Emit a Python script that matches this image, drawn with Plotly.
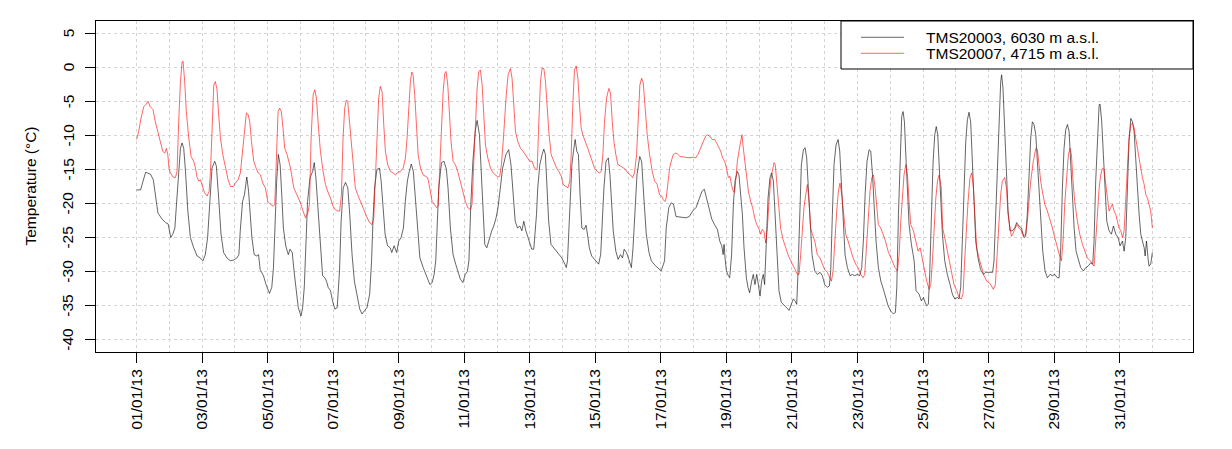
import pandas as pd
import plotly.graph_objects as go

# ---------------- data ----------------
start_date = "2013-01-01 00:00"
series_names = ["TMS20003, 6030 m a.s.l.", "TMS20007, 4715 m a.s.l."]
series_colors = ["rgba(0,0,0,0.6)", "rgba(255,0,0,0.6)"]

hours_tms20003 = [
    0, 2.9, 6.6, 10.2, 12.2, 13.9, 15.6, 18.7, 21.2, 23.1, 24.3, 25.0, 26.5, 28.0, 29.2, 30.9, 32.1, 33.3, 34.5, 35.8,
    37.5, 39.4, 41.8, 44.3, 46.7, 48.6, 50.3, 52.0, 53.5, 55.2, 57.2, 58.4, 60.1, 61.8, 63.7, 66.2, 68.6, 71.0, 73.4, 74.9,
    75.9, 77.6, 79.0, 80.7, 82.0, 83.2, 84.4, 86.1, 88.0, 89.3, 90.5, 92.9, 94.8, 97.3, 99.0, 100.2, 101.4, 102.6, 103.8, 105.1,
    106.3, 107.5, 109.2, 111.1, 112.4, 114.0, 115.3, 116.7, 118.4, 120.4, 121.6, 122.8, 124.0, 125.2, 127.0, 128.9, 130.1, 131.3, 132.5, 134.2,
    136.2, 137.9, 139.1, 140.3, 142.0, 143.5, 145.2, 146.9, 148.6, 149.8, 151.3, 153.0, 154.7, 156.1, 157.8, 159.5, 161.5, 163.4, 165.1, 166.8,
    168.7, 170.7, 172.1, 173.1, 174.3, 176.0, 177.9, 179.1, 180.4, 182.0, 183.8, 185.7, 186.9, 188.6, 190.5, 192.0, 193.7, 195.4, 196.8, 198.3,
    199.7, 201.2, 202.7, 204.1, 205.6, 207.5, 209.9, 212.8, 214.8, 216.5, 217.9, 219.1, 220.1, 221.3, 223.3, 225.2, 226.9, 228.1, 229.8, 231.8,
    233.7, 235.4, 237.1, 239.0, 240.7, 242.2, 243.4, 244.8, 246.3, 248.0, 249.4, 251.1, 252.4, 253.6, 255.0, 256.5, 258.4, 260.1, 261.6, 263.3,
    264.7, 266.2, 268.1, 270.5, 272.5, 274.2, 275.9, 277.3, 279.0, 280.7, 282.2, 283.6, 285.1, 286.5, 288.2, 289.4, 290.9, 292.9, 293.8, 295.3,
    297.0, 298.2, 299.4, 300.6, 301.8, 303.5, 305.5, 307.4, 309.6, 311.5, 313.2, 314.7, 315.6, 316.6, 317.6, 318.8, 320.0, 321.2, 322.4, 323.6,
    324.8, 326.1, 327.8, 329.2, 330.2, 331.6, 333.3, 335.3, 337.0, 338.4, 339.9, 341.1, 342.3, 343.8, 345.5, 346.7, 347.9, 349.1, 351.0, 352.7,
    354.4, 355.9, 357.1, 358.8, 360.5, 362.4, 363.6, 364.8, 366.5, 368.5, 369.9, 371.4, 373.3, 375.3, 377.0, 379.4, 381.8, 384.2, 385.4, 386.7,
    387.9, 389.8, 391.5, 393.2, 395.1, 398.8, 402.4, 404.8, 407.3, 409.7, 412.1, 414.1, 415.8, 417.4, 419.4, 421.3, 423.3, 425.4, 427.1, 428.6,
    429.6, 430.3, 431.0, 432.0, 433.4, 434.4, 435.8, 437.1, 438.3, 440.0, 441.2, 442.4, 443.7, 444.9, 446.6, 447.8, 449.0, 450.5, 451.7, 452.9,
    454.2, 455.4, 456.6, 457.8, 459.0, 460.0, 461.0, 462.5, 463.9, 465.1, 466.4, 467.6, 468.8, 470.5, 472.2, 474.2, 476.1, 477.9, 479.6, 481.0,
    482.3, 483.5, 484.4, 485.7, 486.9, 488.4, 489.6, 490.8, 492.0, 493.2, 494.7, 496.7, 498.6, 500.6, 502.3, 504.0, 506.0, 507.4, 508.4, 509.6,
    510.8, 512.3, 513.8, 515.0, 516.2, 517.4, 518.9, 520.6, 522.6, 524.3, 526.0, 527.9, 529.6, 531.1, 532.3, 533.6, 535.0, 536.5, 537.7, 539.0,
    540.2, 541.6, 543.3, 545.1, 547.0, 548.7, 550.4, 552.4, 554.3, 555.8, 556.8, 558.0, 559.2, 560.4, 561.4, 562.4, 563.4, 564.6, 565.8, 567.5,
    569.5, 570.9, 573.1, 574.8, 576.3, 577.5, 578.7, 579.9, 580.9, 582.2, 583.4, 584.6, 585.7, 586.8, 587.9, 589.0, 590.2, 591.9, 593.8, 595.8,
    597.5, 599.2, 601.1, 602.4, 603.6, 604.8, 606.0, 607.3, 608.5, 609.7, 610.9, 612.1, 613.4, 614.6, 616.3, 618.2, 620.2, 621.9, 623.6, 625.6,
    627.0, 628.0, 629.2, 630.5, 631.7, 632.9, 633.6, 634.6, 635.8, 637.1, 638.3, 639.7, 641.5, 643.2, 644.6, 646.3, 648.1, 650.0, 651.2, 652.4,
    653.7, 654.9, 656.1, 657.3, 658.6, 659.8, 661.0, 662.2, 663.7, 665.4, 667.1, 669.1, 670.8, 672.5, 674.4, 675.7, 676.9, 678.1, 679.3, 680.5,
    681.8, 683.0, 684.2, 685.4, 686.7, 688.1, 689.8, 691.5, 693.5, 695.2, 696.9, 698.9, 700.3, 701.3, 702.5, 703.8, 705.0, 705.7, 706.9, 708.1,
    709.4, 710.6, 712.3, 714.0, 715.5, 717.2, 718.9, 720.4, 722.1, 723.3, 724.5, 725.7, 726.9, 728.2, 729.4, 730.6, 731.8, 733.1, 734.3, 735.5,
    736.7, 738.0, 738.7, 739.7, 740.9, 741.6, 742.8, 744.0,
]
temp_tms20003 = [
    -18.0, -18.0, -15.4, -15.7, -16.5, -19.2, -21.4, -22.3, -22.8, -23.0, -24.0, -25.0, -24.5, -23.6, -20.1, -14.3, -11.9, -11.1, -11.9, -15.3,
    -21.1, -25.0, -26.5, -27.7, -28.0, -28.4, -27.5, -25.0, -19.7, -14.8, -13.8, -14.5, -19.2, -24.5, -27.2, -28.0, -28.4, -28.3, -28.0, -27.5,
    -24.0, -19.7, -18.7, -16.1, -18.2, -21.6, -25.0, -27.5, -27.7, -27.5, -29.7, -30.6, -31.9, -33.2, -32.3, -29.5, -22.6, -16.7, -12.8, -14.3,
    -18.7, -23.6, -26.2, -27.5, -26.7, -27.2, -29.9, -32.8, -35.3, -36.5, -35.3, -32.3, -25.5, -19.7, -16.2, -15.3, -14.0, -16.2, -19.7, -25.5,
    -30.6, -30.9, -31.4, -32.3, -32.8, -34.3, -35.5, -35.3, -29.9, -22.6, -17.7, -16.9, -17.7, -21.6, -27.5, -31.4, -33.8, -35.5, -36.2, -35.8,
    -35.3, -33.3, -28.4, -22.6, -17.7, -15.0, -14.8, -16.7, -20.6, -24.5, -26.2, -26.5, -27.2, -26.2, -27.2, -25.5, -25.0, -23.6, -19.7, -16.7,
    -15.3, -14.2, -15.3, -18.7, -23.6, -28.0, -29.4, -30.9, -31.9, -31.6, -30.4, -28.4, -23.6, -17.7, -14.0, -13.8, -15.0, -17.7, -23.6, -27.5,
    -28.9, -29.9, -31.1, -31.6, -30.4, -30.0, -28.4, -20.1, -13.8, -9.4, -7.8, -9.9, -15.3, -21.6, -26.0, -26.5, -25.0, -24.0, -23.3, -22.1,
    -20.6, -17.7, -14.8, -12.8, -12.1, -14.3, -18.7, -22.6, -23.6, -23.3, -24.0, -22.6, -24.0, -25.0, -26.0, -26.7, -26.7, -21.6, -17.7, -14.3,
    -12.8, -12.0, -12.8, -17.7, -22.6, -26.0, -26.5, -27.0, -27.6, -28.0, -28.7, -29.4, -28.4, -23.6, -18.7, -14.3, -12.3, -10.6, -12.3, -12.8,
    -18.7, -23.6, -23.8, -23.2, -24.5, -26.5, -27.7, -28.2, -28.7, -28.9, -27.5, -22.6, -17.7, -13.8, -13.3, -15.8, -19.7, -24.0, -27.0, -28.2,
    -27.5, -28.0, -26.7, -27.2, -28.2, -29.4, -26.5, -21.1, -15.8, -13.1, -13.8, -18.7, -24.5, -27.2, -28.4, -29.0, -29.4, -29.9, -29.2, -28.4,
    -23.6, -20.6, -19.9, -20.1, -21.9, -22.0, -22.1, -21.9, -21.1, -20.6, -19.2, -18.2, -17.9, -19.2, -20.9, -22.3, -23.1, -23.8, -25.5, -26.2,
    -27.5, -26.0, -28.0, -29.9, -30.6, -30.9, -27.5, -20.1, -16.7, -15.3, -15.8, -18.7, -21.6, -26.5, -30.9, -32.3, -33.1, -31.4, -30.4, -31.9,
    -30.4, -31.9, -33.6, -31.4, -30.4, -31.9, -25.5, -19.2, -16.2, -15.5, -16.7, -21.1, -27.5, -32.8, -34.5, -35.0, -35.3, -35.7, -34.8, -34.0,
    -34.3, -34.8, -30.4, -21.6, -14.3, -12.1, -11.8, -13.3, -17.7, -23.1, -27.5, -29.9, -30.4, -30.1, -30.6, -31.9, -32.3, -32.1, -29.9, -21.6,
    -14.3, -11.4, -10.6, -12.3, -16.7, -22.6, -27.5, -29.4, -30.6, -30.4, -30.6, -30.4, -30.6, -29.4, -25.5, -18.7, -13.8, -12.1, -12.3, -15.8,
    -20.1, -25.5, -29.4, -31.4, -32.6, -33.8, -35.0, -35.8, -36.2, -36.0, -32.3, -21.6, -12.8, -7.2, -6.5, -8.0, -12.8, -18.7, -23.1, -26.0,
    -28.4, -32.8, -33.3, -34.3, -33.8, -34.5, -35.0, -34.8, -30.4, -21.6, -13.8, -9.9, -8.7, -9.9, -14.3, -19.7, -24.5, -28.4, -30.4, -31.9,
    -33.3, -34.0, -33.8, -34.0, -32.3, -25.5, -16.7, -10.9, -7.7, -6.6, -8.0, -12.8, -19.7, -25.5, -28.0, -29.7, -30.4, -30.1, -30.1, -30.1,
    -30.1, -28.4, -21.6, -12.8, -6.5, -2.1, -1.1, -3.1, -8.9, -15.8, -21.1, -24.0, -24.0, -23.6, -22.8, -23.3, -23.6, -25.0, -24.8, -21.6,
    -15.3, -10.4, -8.0, -8.4, -9.9, -14.3, -18.7, -23.1, -27.0, -29.9, -30.9, -30.4, -30.6, -30.4, -30.9, -30.9, -26.5, -17.7, -11.9, -9.2,
    -8.4, -9.4, -13.8, -19.2, -23.6, -27.0, -28.4, -29.4, -29.9, -29.4, -29.2, -28.7, -28.9, -25.5, -16.7, -9.4, -5.5, -5.4, -8.0, -12.8,
    -18.7, -22.6, -24.0, -24.5, -23.3, -24.5, -25.0, -26.2, -25.5, -27.0, -25.0, -17.7, -10.9, -7.5, -8.0, -9.4, -12.8, -17.7, -21.6, -24.5,
    -25.5, -26.5, -27.7, -25.5, -28.2, -29.2, -28.9, -27.2,
]

hours_tms20007 = [
    0, 1.5, 3.2, 5.2, 7.1, 8.3, 10.0, 12.0, 13.7, 15.4, 17.4, 19.1, 20.6, 21.8, 22.8, 23.7, 24.7, 26.7, 28.4, 29.6,
    30.8, 32.1, 33.3, 34.0, 35.2, 36.4, 38.2, 39.9, 41.8, 43.1, 44.3, 45.5, 46.7, 48.0, 49.7, 51.6, 53.1, 54.1, 55.3, 56.5,
    57.7, 58.9, 60.1, 61.4, 63.1, 65.0, 67.0, 68.7, 70.6, 72.3, 74.3, 76.0, 77.5, 78.9, 80.4, 81.6, 82.9, 84.1, 85.8, 87.5,
    89.0, 90.7, 92.4, 94.3, 96.1, 98.0, 100.0, 101.2, 102.4, 103.6, 104.8, 106.0, 107.2, 108.5, 110.2, 112.7, 115.1, 117.6, 120.0, 121.9,
    123.7, 125.4, 126.6, 127.8, 129.3, 130.5, 131.7, 132.9, 134.6, 136.6, 138.3, 140.3, 142.0, 143.9, 145.6, 147.4, 148.7, 150.0, 151.2, 152.4,
    153.6, 154.6, 155.8, 157.0, 158.5, 160.2, 161.9, 163.9, 165.8, 167.5, 169.3, 170.7, 172.4, 173.7, 174.9, 176.1, 177.3, 178.5, 179.8, 181.0,
    182.2, 183.9, 185.9, 187.8, 189.5, 191.5, 193.2, 195.2, 196.9, 198.1, 199.3, 200.5, 201.5, 202.5, 203.7, 204.9, 206.2, 207.9, 209.8, 211.5,
    213.2, 214.7, 216.4, 218.1, 219.6, 220.8, 222.0, 223.3, 224.5, 225.7, 226.7, 227.9, 229.1, 230.3, 231.8, 233.5, 235.2, 237.2, 238.9, 240.8,
    242.6, 244.5, 245.7, 247.0, 248.2, 249.4, 250.6, 251.8, 253.1, 254.3, 255.5, 257.2, 259.2, 261.1, 262.8, 264.5, 266.0, 267.2, 268.5, 269.7,
    270.9, 272.1, 273.8, 275.0, 276.3, 277.5, 279.2, 281.2, 282.9, 284.8, 286.5, 288.0, 289.7, 291.4, 292.6, 293.4, 294.6, 295.8, 297.0, 298.3,
    299.5, 300.7, 301.9, 303.6, 305.6, 307.6, 309.3, 311.0, 312.4, 314.2, 315.9, 317.3, 318.3, 319.5, 320.7, 322.0, 323.2, 324.4, 325.6, 327.1,
    328.8, 330.5, 332.0, 333.7, 335.4, 337.4, 339.1, 340.3, 341.5, 342.7, 344.2, 345.9, 347.1, 348.4, 349.6, 351.0, 352.5, 354.5, 356.4, 358.1,
    359.8, 361.8, 363.3, 364.7, 366.2, 367.4, 368.6, 369.9, 371.1, 372.3, 374.0, 375.7, 377.7, 379.4, 381.3, 383.0, 384.5, 385.7, 387.0, 387.9,
    389.2, 390.4, 391.6, 393.1, 394.8, 396.0, 398.0, 400.4, 402.8, 405.3, 407.7, 409.4, 411.1, 413.1, 415.0, 416.8, 418.0, 419.7, 421.6, 423.4,
    424.8, 426.5, 427.8, 429.2, 430.7, 432.1, 433.4, 434.6, 435.6, 437.0, 438.0, 438.8, 440.0, 441.2, 442.4, 443.4, 444.4, 445.4, 446.6, 448.1,
    449.8, 451.2, 452.7, 454.2, 455.6, 457.1, 458.3, 459.5, 460.8, 462.0, 463.2, 464.4, 465.6, 466.9, 467.8, 468.8, 470.0, 471.7, 473.5, 475.4,
    477.1, 479.1, 480.8, 482.3, 484.0, 485.2, 486.4, 487.6, 488.8, 490.1, 491.3, 492.5, 493.7, 495.0, 496.7, 498.6, 500.6, 502.3, 504.0, 505.9,
    507.7, 508.9, 510.1, 511.3, 512.8, 514.0, 515.2, 516.5, 517.7, 519.4, 521.1, 523.1, 524.8, 526.7, 528.4, 530.4, 532.1, 533.3, 534.5, 535.8,
    537.2, 538.5, 539.7, 540.9, 542.1, 543.3, 545.1, 546.7, 548.5, 550.4, 552.4, 554.1, 555.5, 557.3, 558.5, 559.7, 560.9, 562.1, 563.4, 564.6,
    565.8, 567.0, 569.0, 570.7, 572.4, 573.9, 575.6, 577.3, 578.7, 580.5, 581.7, 582.9, 584.1, 585.4, 586.6, 587.8, 589.4, 590.4, 591.9, 593.3,
    595.0, 596.7, 598.7, 600.7, 602.4, 604.1, 605.3, 606.5, 607.7, 609.0, 610.4, 611.7, 612.9, 614.1, 615.3, 617.0, 618.7, 620.7, 622.6, 624.4,
    626.1, 627.5, 629.0, 630.5, 631.7, 632.9, 634.1, 635.8, 637.1, 638.3, 639.5, 640.7, 642.2, 643.4, 644.6, 646.3, 648.1, 649.5, 651.2, 652.4,
    653.7, 654.9, 656.8, 658.6, 659.8, 661.0, 662.2, 663.4, 665.2, 667.1, 668.8, 670.8, 672.5, 674.4, 676.1, 677.4, 678.6, 679.8, 681.3, 682.5,
    683.7, 684.7, 685.9, 687.1, 689.1, 690.8, 692.8, 694.5, 696.4, 698.4, 700.1, 701.3, 702.5, 703.8, 705.0, 706.2, 707.4, 708.6, 709.9, 711.1,
    712.3, 713.5, 714.7, 716.0, 717.2, 718.4, 719.6, 720.9, 722.1, 723.3, 724.5, 725.7, 726.9, 728.2, 729.4, 730.6, 731.8, 733.1, 734.3, 735.5,
    736.7, 738.0, 739.2, 740.4, 741.6, 742.8, 744.0,
]
temp_tms20007 = [
    -10.6, -9.4, -7.5, -5.8, -5.4, -5.0, -5.8, -6.2, -8.0, -9.4, -10.6, -12.3, -12.6, -11.9, -12.8, -14.8, -15.5, -16.1, -16.2, -15.3,
    -8.0, -2.1, 0.8, 0.9, -2.1, -6.5, -10.4, -13.1, -13.8, -14.8, -16.2, -16.7, -16.5, -17.2, -18.4, -18.9, -18.2, -15.3, -8.0, -2.6,
    -2.1, -3.3, -7.0, -10.4, -12.8, -14.8, -16.5, -17.5, -17.5, -17.0, -16.5, -15.5, -12.8, -9.4, -6.7, -6.9, -8.0, -10.9, -13.8, -14.8,
    -15.5, -15.8, -17.0, -17.7, -19.7, -20.1, -20.4, -20.1, -12.8, -6.5, -6.0, -6.5, -8.9, -11.9, -12.8, -14.8, -17.7, -18.9, -19.9, -21.1,
    -22.1, -21.4, -20.1, -10.4, -4.0, -3.3, -4.5, -8.0, -12.3, -15.3, -17.2, -18.4, -19.2, -20.4, -20.9, -21.1, -21.1, -18.7, -10.4, -6.0,
    -4.8, -5.0, -7.5, -10.9, -14.3, -17.7, -18.7, -19.7, -20.6, -21.6, -22.3, -22.8, -23.1, -22.1, -15.3, -8.9, -4.5, -2.8, -3.6, -8.4,
    -12.3, -14.3, -15.3, -15.5, -15.8, -15.4, -15.3, -14.8, -13.3, -10.4, -6.0, -2.1, -0.7, -1.1, -4.0, -8.9, -12.8, -14.8, -15.8, -16.0,
    -16.2, -17.7, -19.7, -20.1, -20.6, -20.4, -15.3, -8.9, -3.6, -0.9, -0.6, -2.6, -7.0, -10.9, -13.8, -14.3, -15.3, -16.7, -18.2, -19.7,
    -20.6, -20.9, -20.1, -13.8, -8.0, -3.1, -0.6, -0.4, -2.6, -7.5, -11.4, -13.3, -14.8, -15.5, -15.8, -16.1, -16.0, -14.3, -10.9, -7.0,
    -3.6, -1.1, -0.2, -1.6, -6.0, -9.4, -10.9, -11.9, -12.3, -12.8, -13.3, -13.8, -13.8, -14.8, -15.0, -15.0, -8.0, -2.1, -0.1, -0.2,
    -2.1, -6.0, -9.4, -12.8, -13.8, -14.8, -15.3, -16.0, -17.2, -17.5, -17.7, -16.7, -12.8, -5.5, -0.4, 0.2, -1.6, -5.5, -8.9, -10.1,
    -10.9, -11.9, -12.8, -13.8, -14.8, -15.3, -15.5, -15.3, -12.8, -8.0, -4.5, -3.1, -3.8, -8.0, -10.9, -12.8, -14.3, -14.5, -14.8, -15.0,
    -15.5, -15.8, -16.2, -15.5, -12.8, -7.0, -2.6, -1.6, -2.3, -5.5, -9.9, -12.8, -15.3, -16.7, -17.2, -18.7, -18.9, -19.4, -19.7, -19.2,
    -16.7, -14.8, -13.8, -12.8, -12.6, -12.7, -13.1, -13.2, -13.2, -13.3, -13.2, -13.3, -12.8, -11.9, -11.0, -10.1, -9.9, -10.1, -10.6, -10.6,
    -11.1, -11.9, -12.3, -13.3, -13.8, -14.8, -16.2, -16.0, -17.2, -18.2, -18.4, -16.7, -13.8, -12.3, -10.6, -9.9, -11.9, -13.8, -16.2, -18.2,
    -19.7, -20.6, -22.1, -23.1, -23.6, -24.5, -23.8, -24.1, -25.8, -23.6, -19.7, -16.7, -15.3, -14.0, -14.3, -16.7, -20.1, -23.6, -25.3, -26.5,
    -27.5, -28.4, -29.2, -29.7, -30.4, -30.4, -27.5, -23.1, -20.6, -18.7, -17.2, -19.7, -23.6, -24.5, -25.5, -27.5, -28.0, -28.9, -29.7, -30.1,
    -30.9, -31.4, -29.9, -25.5, -21.1, -18.2, -17.0, -18.7, -21.6, -24.5, -25.5, -27.0, -28.0, -28.9, -29.4, -30.4, -30.9, -30.4, -26.5, -21.6,
    -18.2, -16.2, -15.8, -17.7, -20.6, -23.1, -23.6, -24.5, -25.5, -27.0, -28.0, -28.7, -29.4, -29.9, -27.5, -22.6, -18.7, -15.8, -14.3, -15.8,
    -19.7, -23.1, -24.0, -25.5, -27.0, -26.5, -28.4, -29.9, -31.4, -32.6, -31.9, -28.4, -23.6, -19.2, -16.7, -15.8, -17.7, -23.6, -25.0, -26.5,
    -28.4, -29.9, -31.9, -32.8, -33.8, -34.0, -33.3, -28.4, -23.6, -19.7, -16.2, -15.5, -17.7, -22.6, -26.5, -28.0, -29.4, -30.6, -31.4, -31.6,
    -32.1, -32.6, -31.9, -27.5, -22.6, -18.7, -16.7, -16.2, -17.7, -21.6, -23.6, -24.8, -24.3, -23.6, -23.1, -23.6, -24.0, -24.8, -24.5, -22.6,
    -19.7, -16.7, -13.8, -11.9, -12.1, -14.8, -16.7, -18.2, -20.1, -21.1, -22.1, -23.6, -25.0, -26.5, -27.7, -28.4, -25.5, -20.1, -16.2, -12.8,
    -11.9, -12.8, -16.7, -19.7, -22.6, -24.5, -26.0, -27.0, -28.0, -28.4, -28.9, -29.2, -25.5, -21.6, -17.7, -15.8, -14.8, -15.0, -17.7, -19.2,
    -21.1, -20.6, -20.1, -21.1, -21.6, -22.6, -23.6, -24.0, -25.0, -24.0, -20.1, -14.8, -10.4, -8.4, -8.2, -8.9, -10.4, -11.9, -13.8, -15.3,
    -16.2, -17.2, -18.7, -19.2, -20.1, -21.1, -23.6,
]

y_tick_values = [5, 0, -5, -10, -15, -20, -25, -30, -35, -40]
y_tick_labels = ["5", "0", "-5", "-10", "-15", "-20", "-25", "-30", "-35", "-40"]
x_label_days = [0, 2, 4, 6, 8, 10, 12, 14, 16, 18, 20, 22, 24, 26, 28, 30]
x_grid_days = list(range(0, 32))
y_title = "Temperature (°C)"

# ---------------- figure ----------------
t0 = pd.Timestamp(start_date)


def to_dates(hours):
    return [t0 + pd.Timedelta(hours=h) for h in hours]


x_label_dates = [t0 + pd.Timedelta(days=d) for d in x_label_days]
x_label_text = [d.strftime("%d/%m/%y") for d in x_label_dates]
x_grid_dates = [t0 + pd.Timedelta(days=d) for d in x_grid_days]

FONT = "Arial, 'Liberation Sans', sans-serif"
FS = 15.5
GRID = "#D3D3D3"

fig = go.Figure()
fig.add_trace(go.Scatter(x=to_dates(hours_tms20003), y=temp_tms20003, mode="lines",
                         name=series_names[0], line=dict(color=series_colors[0], width=1),
                         showlegend=False))
fig.add_trace(go.Scatter(x=to_dates(hours_tms20007), y=temp_tms20007, mode="lines",
                         name=series_names[1], line=dict(color=series_colors[1], width=1),
                         showlegend=False))

pad_days = 31 * 0.04
x_range = [t0 - pd.Timedelta(days=pad_days), t0 + pd.Timedelta(days=31 + pad_days)]

W, H = 1232, 449
L, R, T, B = 96, 1193, 21, 352


def px(x):
    return (x - L) / (R - L)


def py(y):
    return (B - y) / (B - T)


fig.update_layout(
    width=W, height=H, autosize=False,
    margin=dict(l=L, r=W - R, t=T, b=H - B, pad=0),
    paper_bgcolor="white", plot_bgcolor="white",
    font=dict(family=FONT, size=FS, color="black"),
    showlegend=False,
    xaxis=dict(
        type="date", range=x_range,
        tickmode="array", tickvals=x_label_dates, ticktext=x_label_text,
        tickangle=-90, ticks="outside", ticklen=10, tickcolor="black", tickwidth=1,
        showline=True, mirror=True, linecolor="black", linewidth=1,
        showgrid=True, gridcolor=GRID, griddash="dot", gridwidth=1,
        minor=dict(tickmode="array", tickvals=x_grid_dates, showgrid=True,
                   gridcolor=GRID, griddash="dot", gridwidth=1, ticks=""),
        zeroline=False, tickfont=dict(size=FS, family=FONT, color="black"),
    ),
    yaxis=dict(
        range=[-41.8, 6.8],
        tickmode="array", tickvals=y_tick_values, ticktext=y_tick_labels,
        showticklabels=False,
        ticks="outside", ticklen=10, tickcolor="black", tickwidth=1,
        showline=True, mirror=True, linecolor="black", linewidth=1,
        showgrid=True, gridcolor=GRID, griddash="dot", gridwidth=1,
        zeroline=False,
    ),
)

# y tick labels rotated like R's default (las=0): text parallel to the axis
for v, lab in zip(y_tick_values, y_tick_labels):
    fig.add_annotation(xref="paper", yref="y", x=px(68), y=v, text=lab, textangle=-90,
                       xanchor="center", yanchor="middle", showarrow=False, borderpad=0,
                       font=dict(size=FS, family=FONT, color="black"))

# y axis title
fig.add_annotation(xref="paper", yref="paper", x=px(30), y=py(186.5), text=y_title,
                   textangle=-90, xanchor="center", yanchor="middle", showarrow=False,
                   borderpad=0, font=dict(size=FS, family=FONT, color="black"))

# legend box drawn like R's legend()
leg_x0, leg_x1, leg_y0, leg_y1 = 841, 1193, 21, 69
line_x0, line_x1 = 861, 904
text_x = 925
row_y = [37.3, 53.3]
fig.add_shape(type="rect", xref="paper", yref="paper",
              x0=px(leg_x0), x1=px(leg_x1), y0=py(leg_y1), y1=py(leg_y0),
              line=dict(color="black", width=1), fillcolor="white", layer="above")
for name, color, yy in zip(series_names, series_colors, row_y):
    fig.add_shape(type="line", xref="paper", yref="paper",
                  x0=px(line_x0), x1=px(line_x1), y0=py(yy), y1=py(yy),
                  line=dict(color=color, width=1), layer="above")
    fig.add_annotation(xref="paper", yref="paper", x=px(text_x), y=py(yy),
                       xanchor="left", yanchor="middle", text=name, showarrow=False,
                       font=dict(size=FS, family=FONT, color="black"), borderpad=0)

fig.write_html("out.html")
